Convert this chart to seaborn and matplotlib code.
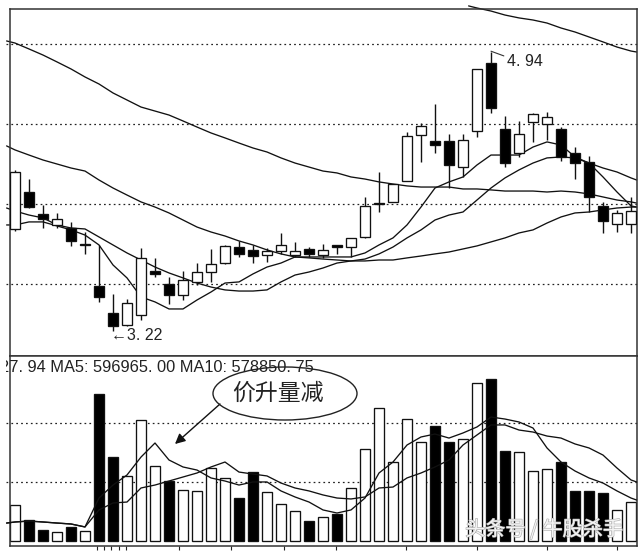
import matplotlib
matplotlib.use("Agg")
import matplotlib.pyplot as plt
import matplotlib.patheffects as pe
from matplotlib.patches import Ellipse, Rectangle
from matplotlib.transforms import IdentityTransform
import numpy as np
import seaborn as sns

# daily candles
opens = [3.844, 4.075, 3.938, 3.869, 3.850, 3.750, 3.488, 3.319, 3.244, 3.306, 3.581, 3.500, 3.431, 3.513, 3.575,
         3.631, 3.731, 3.713, 3.681, 3.706, 3.681, 3.719, 3.681, 3.744, 3.731, 3.794, 4.006, 4.013, 4.144, 4.431,
         4.394, 4.394, 4.231, 4.456, 4.881, 4.469, 4.319, 4.513, 4.500, 4.469, 4.319, 4.263, 3.988, 3.875, 3.875]
closes = [4.200, 3.981, 3.906, 3.906, 3.769, 3.744, 3.419, 3.238, 3.381, 3.663, 3.563, 3.431, 3.525, 3.575, 3.625,
          3.738, 3.688, 3.675, 3.706, 3.744, 3.706, 3.688, 3.713, 3.731, 3.788, 3.988, 4.000, 4.125, 4.425, 4.488,
          4.369, 4.244, 4.400, 4.844, 4.600, 4.256, 4.438, 4.563, 4.544, 4.294, 4.256, 4.044, 3.894, 3.944, 3.956]
highs = [4.213, 4.156, 3.994, 3.944, 3.888, 3.825, 3.744, 3.438, 3.406, 3.725, 3.663, 3.544, 3.581, 3.631, 3.719,
         3.744, 3.769, 3.744, 3.725, 3.819, 3.763, 3.731, 3.750, 3.744, 3.788, 4.044, 4.200, 4.125, 4.450, 4.506,
         4.625, 4.438, 4.438, 4.844, 4.950, 4.550, 4.519, 4.569, 4.575, 4.481, 4.356, 4.300, 4.013, 3.963, 4.044]
lows = [3.831, 3.975, 3.850, 3.850, 3.738, 3.688, 3.388, 3.206, 3.238, 3.275, 3.544, 3.375, 3.400, 3.494, 3.513,
        3.625, 3.669, 3.631, 3.638, 3.688, 3.669, 3.669, 3.663, 3.688, 3.669, 3.788, 3.950, 4.013, 4.144, 4.263,
        4.319, 4.100, 4.169, 4.419, 4.569, 4.231, 4.294, 4.388, 4.400, 4.269, 4.156, 3.950, 3.819, 3.825, 3.819]

# moving averages, one value per day plus the stubs past both edges of the frame
ma_days = [-0.6] + list(range(45)) + [44.4]
ma5 = [3.869, 3.869, 3.888, 3.888, 3.863, 3.838, 3.806, 3.744, 3.619, 3.538, 3.419, 3.388, 3.344, 3.344, 3.400,
       3.450, 3.506, 3.513, 3.563, 3.606, 3.631, 3.669, 3.669, 3.669, 3.669, 3.669, 3.694, 3.744, 3.788, 3.869,
       3.981, 4.100, 4.138, 4.169, 4.244, 4.306, 4.306, 4.306, 4.356, 4.388, 4.369, 4.294, 4.256, 4.169, 4.075,
       3.988, 3.981]
ma10 = [3.975, 3.956, 3.931, 3.913, 3.869, 3.850, 3.844, 3.794, 3.744, 3.694, 3.650, 3.606, 3.569, 3.538, 3.506,
        3.481, 3.463, 3.456, 3.456, 3.463, 3.513, 3.556, 3.575, 3.600, 3.631, 3.644, 3.656, 3.688, 3.731, 3.788,
        3.838, 3.900, 3.931, 3.950, 4.025, 4.100, 4.163, 4.213, 4.256, 4.288, 4.294, 4.288, 4.256, 4.225, 4.200,
        4.163, 4.150]
ma20 = [4.363, 4.338, 4.306, 4.275, 4.250, 4.225, 4.206, 4.150, 4.100, 4.056, 4.013, 3.981, 3.944, 3.900, 3.856,
        3.825, 3.800, 3.769, 3.744, 3.713, 3.688, 3.669, 3.663, 3.656, 3.650, 3.644, 3.644, 3.650, 3.650, 3.663,
        3.675, 3.688, 3.700, 3.719, 3.738, 3.763, 3.788, 3.819, 3.838, 3.881, 3.919, 3.944, 3.950, 3.963, 3.975,
        3.981, 3.981]
ma60 = [5.019, 5.006, 4.969, 4.931, 4.888, 4.844, 4.794, 4.750, 4.694, 4.650, 4.606, 4.581, 4.556, 4.519, 4.481,
        4.444, 4.413, 4.381, 4.350, 4.325, 4.288, 4.256, 4.231, 4.206, 4.194, 4.169, 4.156, 4.138, 4.125, 4.113,
        4.106, 4.106, 4.106, 4.094, 4.094, 4.088, 4.081, 4.081, 4.081, 4.075, 4.081, 4.075, 4.063, 4.044, 4.025,
        4.013, 4.006]
ma120_days = [32.4, 33, 34, 35, 36, 37, 38, 39, 40, 41, 42, 43, 44, 44.4]
ma120 = [5.238, 5.225, 5.206, 5.181, 5.163, 5.150, 5.131, 5.100, 5.075, 5.044, 5.013, 4.981, 4.956, 4.950]

# volume in thousands of shares
volume = [305, 178, 93, 76, 119, 85, 1245, 711, 551, 1025, 635, 508, 432, 424, 618,
          534, 364, 584, 415, 313, 254, 169, 203, 229, 449, 779, 1127, 669, 1033, 839,
          974, 839, 864, 1338, 1372, 762, 754, 593, 610, 669, 424, 424, 407, 263, 330]
vol_ma5 = [152, 161, 169, 161, 152, 144, 119, 364, 474, 559, 711, 830, 686, 627, 601,
           534, 508, 474, 500, 500, 424, 373, 330, 263, 237, 263, 364, 576, 669, 813,
           881, 906, 872, 915, 966, 1050, 1033, 1008, 957, 788, 669, 593, 534, 491, 424,
           364, 347]
vol_ma10 = [152, 161, 169, 161, 152, 144, 119, 263, 322, 330, 449, 474, 508, 542, 576,
            627, 669, 584, 567, 551, 491, 449, 424, 390, 364, 356, 373, 449, 457, 534,
            576, 627, 686, 813, 898, 983, 983, 940, 923, 889, 872, 822, 788, 728, 618,
            517, 500]
# black volume bars do not follow the candle colour everywhere
vol_black = [1, 2, 4, 6, 7, 11, 16, 17, 21, 23, 30, 31, 34, 35, 39, 40, 41, 42]

price_grid = [5.0, 4.5, 4.0, 3.5]
vol_grid = [1000, 500]
tick_pos = [5.86, 6.36, 6.86, 7.43, 7.93, 11.71, 15.43, 19.21, 22.93, 27.93, 32.97, 38, 43]

sns.set_theme(style="white")
plt.rcParams["font.family"] = ["Liberation Sans", "DejaVu Sans"]
CJK = ["Noto Sans CJK SC", "DejaVu Sans"]
W, H = 640, 551


def fx(x):
    return x / W


def fy(y):
    return 1 - y / H


fig = plt.figure(figsize=(W / 100, H / 100), dpi=100, facecolor="white")
ax1 = fig.add_axes([fx(10), fy(356), fx(627), (356 - 9) / H])
ax2 = fig.add_axes([fx(10), fy(546), fx(627), (546 - 356) / H])

days = np.arange(45)
line_kw = dict(color="#111111", linewidth=0.95, estimator=None, sort=False, clip_on=False, legend=False, zorder=2)

# price panel
for vals, xs in [(ma5, ma_days), (ma10, ma_days), (ma20, ma_days), (ma60, ma_days), (ma120, ma120_days)]:
    sns.lineplot(x=xs, y=vals, ax=ax1, **line_kw)

ax1.vlines(days, lows, highs, color="#111111", linewidth=1.0, zorder=3)
for i in days:
    up = closes[i] >= opens[i]
    ax1.bar(i, abs(closes[i] - opens[i]), bottom=min(opens[i], closes[i]), width=0.68,
            facecolor="white" if up else "black", edgecolor="#111111", linewidth=0.95, zorder=4)
ax1.hlines(price_grid, -0.64, 44.43, color="#222222", linewidth=0.9, linestyles=(0, (1.4, 2.5)),
           clip_on=False, zorder=1)
ax1.set_xlim(-5 / 14, 622 / 14)
ax1.set_ylim(5.275 - 356 / 160, 5.275 - 9 / 160)
ax1.set_xticks([])
ax1.set_yticks([])

ax1.annotate("4. 94", xy=(34, 4.955), xytext=(35.15, 4.89), fontsize=11.5, color="#222222", va="center",
             arrowprops=dict(arrowstyle="-", color="#333333", linewidth=0.8, shrinkA=0, shrinkB=0,
                             relpos=(0, 0.8)), zorder=6)
ax1.text(6.85, 3.178, "←3. 22", fontsize=11.5, color="#222222", va="center", zorder=6)

# volume panel
bar_cols = ["down" if i in vol_black else "up" for i in days]
sns.barplot(x=days, y=volume, hue=bar_cols, palette={"up": "white", "down": "black"}, native_scale=True,
            dodge=False, width=0.72, edgecolor="#111111", linewidth=0.95, legend=False, ax=ax2, orient="x", zorder=2)
for vals in (vol_ma5, vol_ma10):
    sns.lineplot(x=ma_days, y=vals, ax=ax2, **{**line_kw, "zorder": 3})
ax2.hlines(vol_grid, -0.64, 44.43, color="#222222", linewidth=0.9, linestyles=(0, (1.4, 2.5)),
           clip_on=False, zorder=1)
ax2.set_xlim(-5 / 14, 622 / 14)
ax2.set_ylim(-42.4, 1567)
ax2.set_xticks(tick_pos)
ax2.set_xticklabels([])
ax2.set_yticks([])
ax2.set_xlabel("")
ax2.set_ylabel("")
ax2.tick_params(axis="x", bottom=True, length=3.2, width=0.8, color="#222222")

for ax in (ax1, ax2):
    for side, spine in ax.spines.items():
        spine.set_color("#333333")
        spine.set_linewidth(1.1)
        spine.set_visible(True)

# readout line, its first digit is cut by the frame like in the terminal
label = fig.text(fx(0.5), fy(368), "27. 94 MA5: 596965. 00 MA10: 578850. 75", fontsize=11.75, color="#222222",
                 va="center", ha="left", zorder=5)
label.set_clip_path(Rectangle((6, 0), W, H, transform=IdentityTransform()))

# callout
fig.add_artist(Ellipse((fx(285), fy(393.5)), 144 / W, 53 / H, transform=fig.transFigure, fill=False,
                       edgecolor="#222222", linewidth=1.0, zorder=6))
fig.text(fx(277.5), fy(393), "价升量减", family=CJK, fontsize=16.5, color="#222222", ha="center", va="center", zorder=7)
fig.add_artist(plt.Annotation("", xy=(fx(175), fy(444)), xytext=(fx(220), fy(404)),
                              xycoords="figure fraction", textcoords="figure fraction",
                              arrowprops=dict(arrowstyle="-|>", color="#111111", linewidth=1.0,
                                              mutation_scale=15, shrinkA=0, shrinkB=0)))

# watermark
fig.text(fx(544), fy(530), "头条号 / 牛股杀手", family=CJK, fontsize=14.5, color="#f4f4f4", ha="center", va="center",
         zorder=8, path_effects=[pe.withStroke(linewidth=0.9, foreground="#b0b0b0")])

fig.savefig("out.png", dpi=100, facecolor="white")
